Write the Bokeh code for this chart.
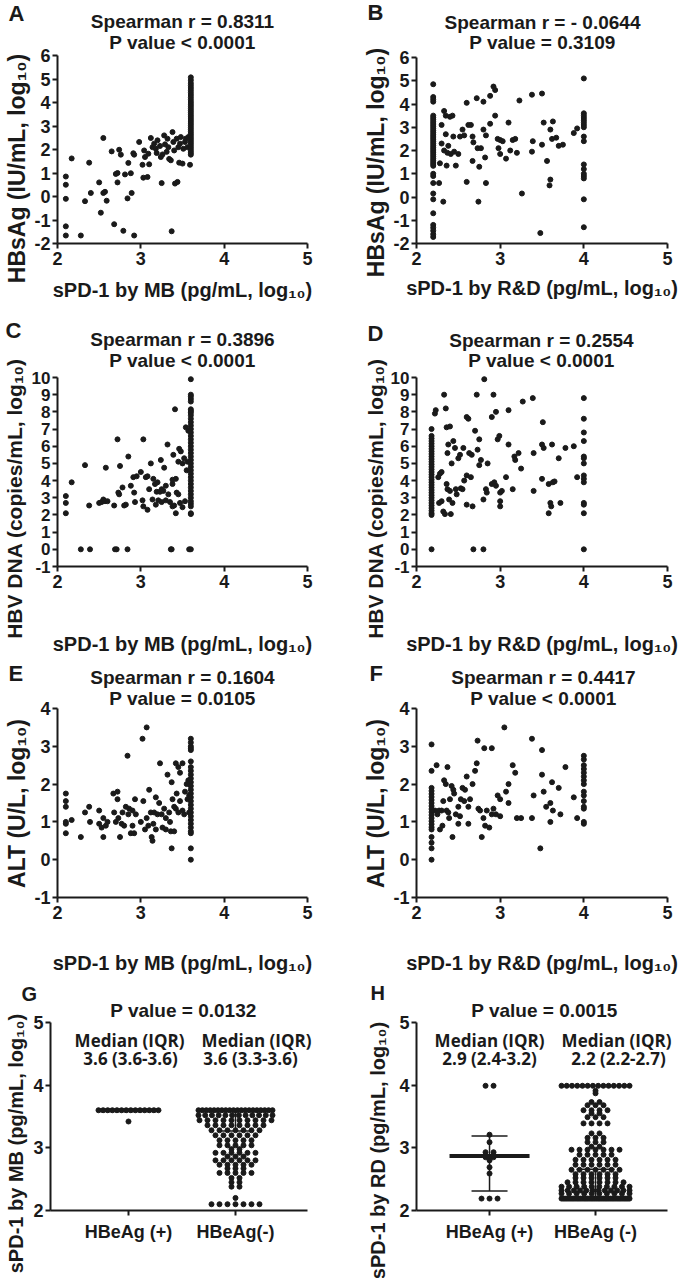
import math
from bokeh.plotting import figure
from bokeh.models import FixedTicker, Range1d
from bokeh.core.properties import value
from bokeh.layouts import column, row
from bokeh.embed import file_html
from bokeh.resources import INLINE

FONT = "Liberation Sans"
FONT2 = "Open Sans"
INK = "#1a1a1a"

# ---------------- data ----------------
# A: HBsAg vs sPD-1 by MB
a_x = [2.1, 2.1, 2.1, 2.1, 2.1, 2.17, 2.28, 2.33, 2.38, 2.4,
       2.5, 2.52, 2.55, 2.55, 2.57, 2.59, 2.65, 2.68, 2.7, 2.72,
       2.72, 2.74, 2.76, 2.79, 2.81, 2.85, 2.84, 2.88, 2.89, 2.91,
       2.92, 2.92, 2.98, 3.02, 3.03, 3.04, 3.05, 3.08, 3.09, 3.1,
       3.12, 3.14, 3.16, 3.18, 3.19, 3.2, 3.23, 3.24, 3.25, 3.26,
       3.28, 3.29, 3.31, 3.32, 3.33, 3.34, 3.36, 3.37, 3.38, 3.39,
       3.4, 3.41, 3.43, 3.44, 3.45, 3.46, 3.47, 3.48, 3.5, 3.51,
       3.53, 3.54, 3.56, 3.57, 3.59]
a_y = [0.85, 0.5, -0.1, -1.27, -1.66, 1.62, -1.66, -0.2, 1.44, 0.15,
       0.6, -0.69, 2.49, 0.15, 0.2, -0.18, 1.92, -1.18, 0.96, 1.0,
       0.6, 1.99, 1.78, -1.46, 0.94, 1.43, -0.08, 0.99, 0.15, 1.84,
       1.78, -1.66, 2.32, 1.35, 0.8, 1.96, 1.68, 0.83, 1.82, 1.37,
       2.49, 2.1, 2.25, 2.03, 1.85, 2.39, 2.15, 1.68, 0.57, 1.79,
       2.6, 2.22, 1.9, 2.46, 2.1, 1.6, 1.54, -1.48, 2.74, 2.32,
       1.96, 0.55, 2.46, 0.62, 2.1, 1.44, 2.25, 2.53, 1.4, 2.03,
       2.32, 2.46, 2.1, 2.53, 1.35]
a_col_x = 3.6
a_col_y = [5.07, 4.95, 4.82, 4.72, 4.62, 4.52, 4.42, 4.32, 4.22, 4.12,
           4.02, 3.93, 3.84, 3.75, 3.66, 3.57, 3.48, 3.39, 3.3, 3.21,
           3.12, 3.03, 2.94, 2.85, 2.76, 2.67, 2.58, 2.49, 2.4, 2.31,
           2.22, 2.13, 2.04, 1.95, 1.86, 1.78]

# B: HBsAg vs sPD-1 by R&D
b_x = [2.27, 2.28, 2.3, 2.3, 2.32, 2.33, 2.33, 2.35, 2.35, 2.36,
       2.37, 2.38, 2.4, 2.41, 2.43, 2.44, 2.45, 2.47, 2.5, 2.52,
       2.55, 2.57, 2.6, 2.6, 2.62, 2.65, 2.67, 2.67, 2.68, 2.72,
       2.73, 2.74, 2.75, 2.77, 2.8, 2.8, 2.82, 2.83, 2.83, 2.88,
       2.88, 2.92, 2.94, 2.94, 2.97, 2.98, 3.0, 3.0, 3.03, 3.07,
       3.1, 3.12, 3.15, 3.18, 3.2, 3.23, 3.26, 3.38, 3.39, 3.38,
       3.48, 3.5, 3.5, 3.52, 3.56, 3.59, 3.6, 3.6, 3.62, 3.63,
       3.67, 3.7, 3.75, 3.88, 3.92]
b_y = [0.6, 1.45, 3.1, 2.3, -0.2, 3.7, 2.0, 3.5, 2.7, 1.35,
       1.9, 2.2, 3.45, 1.85, 3.5, 2.6, 1.95, 1.35, 1.85, 2.6,
       2.9, 2.65, 4.05, 0.65, 3.1, 3.1, 2.6, 1.55, 2.35, 4.25,
       2.1, -0.2, 1.3, 2.1, 4.1, 2.9, 1.7, 0.6, 2.65, 3.15,
       4.35, 4.75, 4.6, 3.5, 2.5, 2.1, 1.85, 2.45, 2.4, 1.65,
       3.2, 2.0, 2.45, 2.5, 1.9, 4.15, 0.15, 4.4, 2.4, 1.95,
       -1.55, 4.45, 2.25, 3.2, 1.55, 0.5, 0.75, 2.9, 2.5, 3.25,
       2.55, 2.2, 2.25, 2.75, 2.95]
b_col1_x = 2.2
b_col1_y = [4.85, 4.3, 4.2, 4.1, 3.5, 3.42, 3.34, 3.26, 3.18, 3.1,
            3.02, 2.94, 2.86, 2.78, 2.7, 2.62, 2.54, 2.46, 2.38, 2.3,
            2.22, 2.14, 2.06, 1.98, 1.9, 1.82, 1.74, 1.66, 1.58, 1.5,
            1.42, 1.34, 1.0, 0.9, 0.6, 0.15, -0.1, -0.7, -1.2, -1.32,
            -1.45, -1.6, -1.72]
b_col2_x = 4.0
b_col2_y = [5.1, 3.6, 3.5, 3.4, 3.3, 3.2, 3.1, 3.0, 2.6, 2.4,
            1.4, 1.2, 1.0, 0.9, 0.8, -0.1, -1.3]

# C: HBV DNA vs sPD-1 by MB
c_x = [2.1, 2.1, 2.1, 2.17, 2.28, 2.33, 2.39, 2.38, 2.5, 2.53,
       2.55, 2.57, 2.58, 2.6, 2.68, 2.69, 2.71, 2.72, 2.73, 2.74,
       2.75, 2.78, 2.8, 2.82, 2.84, 2.85, 2.88, 2.91, 2.92, 2.93,
       2.95, 3.0, 3.02, 3.03, 3.03, 3.06, 3.08, 3.08, 3.1, 3.12,
       3.14, 3.15, 3.17, 3.18, 3.19, 3.2, 3.21, 3.23, 3.24, 3.25,
       3.25, 3.27, 3.28, 3.3, 3.3, 3.32, 3.33, 3.35, 3.36, 3.37,
       3.38, 3.38, 3.38, 3.39, 3.4, 3.41, 3.42, 3.42, 3.43, 3.45,
       3.45, 3.46, 3.47, 3.48, 3.5, 3.5, 3.52, 3.53, 3.54, 3.55,
       3.56, 3.57, 3.58]
c_y = [3.1, 2.7, 2.1, 3.9, 0.0, 4.9, 0.0, 2.55, 2.7, 2.75,
       2.9, 2.8, 4.75, 2.8, 2.55, 0.0, 0.0, 6.4, 3.3, 3.2,
       4.85, 3.6, 2.55, 2.6, 0.0, 5.4, 3.7, 4.2, 3.3, 2.75,
       4.25, 4.5, 2.85, 6.4, 2.5, 4.2, 4.25, 2.3, 3.5, 5.0,
       2.9, 4.1, 3.8, 2.6, 3.35, 3.9, 2.85, 3.35, 5.2, 3.5,
       2.75, 3.4, 4.75, 3.7, 2.85, 6.1, 3.2, 2.75, 0.0, 0.0,
       2.5, 3.8, 4.05, 5.5, 2.55, 8.15, 4.1, 2.1, 3.3, 3.2,
       5.1, 5.85, 2.7, 5.7, 2.45, 5.0, 5.3, 2.8, 7.1, 4.6,
       5.1, 6.9, 0.0]
c_col_x = 3.6
c_col_y = [9.9, 9.0, 8.9, 8.75, 8.6, 8.15, 8.05, 7.95, 7.8, 7.6,
           7.4, 7.2, 7.0, 6.8, 6.6, 6.4, 6.2, 6.0, 5.8, 5.6,
           5.4, 5.2, 5.0, 4.8, 4.6, 4.4, 4.2, 4.0, 3.8, 3.6,
           3.4, 3.2, 3.0, 2.8, 2.65, 2.5, 2.1, 2.05, 0.0]

# D: HBV DNA vs sPD-1 by R&D
d_x = [2.22, 2.23, 2.26, 2.27, 2.28, 2.3, 2.3, 2.32, 2.33, 2.34,
       2.35, 2.36, 2.36, 2.37, 2.37, 2.38, 2.39, 2.4, 2.4, 2.41,
       2.42, 2.43, 2.44, 2.46, 2.47, 2.48, 2.5, 2.52, 2.53, 2.55,
       2.56, 2.57, 2.6, 2.6, 2.6, 2.62, 2.63, 2.65, 2.66, 2.67,
       2.68, 2.7, 2.72, 2.73, 2.75, 2.75, 2.77, 2.8, 2.8, 2.81,
       2.83, 2.84, 2.85, 2.9, 2.9, 2.92, 2.93, 2.95, 2.95, 2.97,
       2.99, 3.0, 3.0, 3.0, 3.02, 3.07, 3.1, 3.1, 3.15, 3.17,
       3.18, 3.22, 3.25, 3.27, 3.39, 3.4, 3.4, 3.5, 3.51, 3.5,
       3.52, 3.58, 3.58, 3.6, 3.61, 3.62, 3.63, 3.65, 3.7, 3.72,
       3.78, 3.88, 3.92]
d_y = [7.9, 8.1, 4.2, 2.7, 4.4, 4.5, 2.8, 2.2, 9.0, 2.05,
       8.2, 3.8, 7.1, 3.5, 5.6, 6.1, 2.9, 3.4, 7.15, 2.05,
       5.0, 2.7, 6.3, 5.9, 3.5, 3.2, 5.3, 5.5, 3.55, 3.5,
       5.9, 4.0, 7.7, 4.3, 2.6, 7.6, 5.6, 4.2, 5.5, 2.5,
       0.0, 6.9, 9.0, 5.8, 6.4, 4.9, 5.2, 0.0, 2.9, 9.9,
       3.5, 3.3, 5.0, 7.7, 3.8, 9.0, 3.9, 3.7, 8.0, 6.4,
       6.6, 3.3, 2.8, 2.5, 3.4, 4.2, 6.1, 8.1, 3.5, 5.4,
       5.2, 5.6, 4.7, 8.6, 8.8, 5.6, 3.4, 4.1, 7.4, 6.1,
       5.9, 2.1, 3.8, 2.7, 2.5, 6.1, 3.9, 3.95, 5.3, 2.7,
       5.9, 6.0, 4.2]
d_col1_x = 2.18
d_col1_y = [7.0, 6.6, 6.45, 6.3, 6.15, 6.0, 5.85, 5.7, 5.55, 5.4,
            5.25, 5.1, 4.95, 4.8, 4.65, 4.5, 4.35, 4.2, 4.05, 3.9,
            3.75, 3.6, 3.45, 3.3, 3.15, 3.0, 2.85, 2.7, 2.55, 2.4,
            2.25, 2.1, 2.0, 0.0]
d_col2_x = 4.0
d_col2_y = [8.8, 7.6, 6.8, 6.3, 5.4, 5.3, 5.0, 4.3, 4.1, 3.9,
            2.7, 2.6, 2.1, 0.0]

# E: ALT vs sPD-1 by MB
e_x = [2.1, 2.1, 2.1, 2.1, 2.1, 2.1, 2.17, 2.28, 2.33, 2.38,
       2.39, 2.5, 2.5, 2.53, 2.55, 2.55, 2.58, 2.6, 2.67, 2.68,
       2.7, 2.72, 2.72, 2.73, 2.75, 2.77, 2.78, 2.8, 2.82, 2.84,
       2.85, 2.86, 2.88, 2.9, 2.9, 2.92, 2.93, 2.94, 3.0, 3.02,
       3.03, 3.05, 3.07, 3.07, 3.09, 3.1, 3.12, 3.13, 3.14, 3.15,
       3.16, 3.18, 3.18, 3.2, 3.22, 3.23, 3.25, 3.26, 3.28, 3.3,
       3.3, 3.32, 3.34, 3.35, 3.36, 3.37, 3.37, 3.38, 3.4, 3.4,
       3.42, 3.42, 3.43, 3.45, 3.45, 3.47, 3.47, 3.5, 3.5, 3.52,
       3.53, 3.55, 3.56, 3.57, 3.58, 3.58]
e_y = [1.75, 1.55, 1.4, 1.0, 0.95, 0.7, 1.05, 0.6, 1.25, 1.4,
       1.0, 1.3, 0.95, 0.85, 0.6, 1.1, 0.9, 1.0, 1.75, 1.25,
       1.0, 1.6, 1.8, 1.1, 0.6, 0.95, 1.25, 0.9, 1.4, 2.75,
       1.2, 1.35, 0.7, 1.3, 0.9, 0.7, 1.6, 1.2, 1.0, 3.2,
       1.55, 0.8, 3.5, 1.1, 0.9, 1.85, 1.25, 0.6, 0.5, 0.95,
       1.25, 1.65, 0.8, 1.2, 1.5, 2.55, 1.2, 0.85, 1.35, 1.1,
       0.8, 2.25, 1.25, 1.0, 0.75, 2.05, 0.3, 1.6, 1.4, 0.75,
       2.55, 1.35, 1.75, 2.45, 1.25, 2.3, 1.55, 2.55, 1.3, 1.2,
       1.8, 2.0, 1.6, 2.1, 1.25, 1.7]
e_col_x = 3.6
e_col_y = [3.2, 3.1, 3.0, 2.95, 2.9, 2.6, 2.45, 2.35, 2.25, 2.15,
           2.05, 1.95, 1.85, 1.75, 1.65, 1.55, 1.45, 1.35, 1.25, 1.15,
           1.05, 0.95, 0.85, 0.75, 0.7, 0.3, 0.0]

# F: ALT vs sPD-1 by R&D
f_x = [2.22, 2.24, 2.25, 2.27, 2.28, 2.3, 2.31, 2.32, 2.33, 2.35,
       2.36, 2.37, 2.38, 2.39, 2.4, 2.42, 2.43, 2.44, 2.45, 2.47,
       2.5, 2.5, 2.52, 2.53, 2.55, 2.57, 2.58, 2.6, 2.62, 2.62,
       2.64, 2.67, 2.7, 2.72, 2.73, 2.74, 2.76, 2.78, 2.8, 2.81,
       2.82, 2.84, 2.87, 2.9, 2.9, 2.92, 2.95, 2.97, 3.0, 3.0,
       3.05, 3.07, 3.1, 3.1, 3.15, 3.18, 3.2, 3.25, 3.38, 3.4,
       3.38, 3.48, 3.5, 3.5, 3.52, 3.55, 3.6, 3.6, 3.62, 3.63,
       3.7, 3.72, 3.78, 3.88, 3.92]
f_y = [1.3, 2.5, 1.2, 1.3, 0.8, 1.3, 0.9, 1.55, 2.1, 2.0,
       1.3, 2.45, 1.25, 1.1, 1.6, 1.95, 0.6, 1.85, 1.75, 1.2,
       1.4, 0.95, 1.15, 1.6, 1.9, 1.55, 1.85, 2.2, 0.95, 1.4,
       1.6, 2.0, 2.35, 2.55, 3.15, 1.35, 1.3, 0.6, 1.1, 2.95,
       0.9, 1.3, 0.85, 2.95, 1.2, 1.35, 1.2, 1.7, 1.15, 1.6,
       3.5, 1.8, 2.0, 1.5, 2.5, 2.3, 1.1, 1.1, 3.2, 1.7,
       1.1, 0.3, 2.9, 2.25, 1.8, 1.4, 1.0, 1.5, 2.05, 1.3,
       1.9, 1.2, 2.45, 1.65, 1.1]
f_col1_x = 2.18
f_col1_y = [3.05, 2.35, 1.9, 1.82, 1.74, 1.66, 1.58, 1.5, 1.42, 1.34,
            1.26, 1.18, 1.1, 1.02, 0.94, 0.86, 0.8, 0.6, 0.45, 0.3, 0.0]
f_col2_x = 4.0
f_col2_y = [2.75, 2.65, 2.5, 2.4, 2.3, 2.2, 2.1, 2.0, 1.8, 1.7,
            1.55, 1.4, 1.35, 1.0, 0.95]

# G: sPD-1 by MB by HBeAg status (value levels and number of dots at each)
groups = ["HBeAg (+)", "HBeAg(-)"]
g_pos_levels = [3.6, 3.42]
g_pos_counts = [14, 1]
g_neg_levels = [3.6, 3.52, 3.44, 3.36, 3.28, 3.2, 3.12, 3.04, 2.98, 2.92,
                2.86, 2.8, 2.73, 2.67, 2.6, 2.52, 2.45, 2.38, 2.2, 2.1]
g_neg_counts = [20, 12, 10, 8, 7, 6, 5, 5, 2, 6,
                3, 6, 5, 3, 5, 2, 2, 2, 1, 7]
g_median = [3.6, 3.6]
g_q1 = [3.6, 3.27]
g_q3 = [3.6, 3.6]

# H: sPD-1 by R&D by HBeAg status
groups_h = ["HBeAg (+)", "HBeAg (-)"]
h_pos_levels = [3.99, 3.21, 3.09, 2.93, 2.85, 2.8, 2.69, 2.59, 2.19]
h_pos_counts = [2, 1, 1, 2, 2, 1, 1, 1, 3]
h_neg_levels = [3.99, 3.91, 3.87, 3.73, 3.68, 3.6, 3.55, 3.49, 3.39, 3.23,
                3.16, 3.09, 3.02, 2.97, 2.89, 2.81, 2.73, 2.65, 2.58, 2.52,
                2.45, 2.38, 2.32, 2.27, 2.19]
h_neg_counts = [14, 1, 1, 2, 3, 4, 2, 3, 4, 2,
                3, 3, 2, 7, 5, 6, 6, 7, 6, 6,
                8, 10, 12, 10, 40]
h_median = [2.87, 2.2]
h_q1 = [2.31, 2.2]
h_q3 = [3.19, 2.66]

LOG = "log\u2081\u2080"
HALF = math.pi / 2


# ---------------- helpers ----------------
def panel(ox, oy, w, h, ax_x, ax_y, ax_l, ax_r, ax_t, ax_b,
          xticks, yticks, ytick_size="18px", xstand=3):
    """One panel; the plot frame fills the whole cell so that the panel
    letter and titles can be drawn in it.  The axes are pinned (fixed_location)
    at the low ends of the data ranges and bounded to the ticked span."""
    ppx = (ax_r - ax_l) / (ax_x[1] - ax_x[0])
    ppy = (ax_b - ax_t) / (ax_y[1] - ax_y[0])
    xr = (ax_x[0] - (ax_l - ox) / ppx, ax_x[1] + (ox + w - ax_r) / ppx)
    yr = (ax_y[0] - (oy + h - ax_b) / ppy, ax_y[1] + (ax_t - oy) / ppy)
    p = figure(width=w, height=h, x_range=Range1d(*xr), y_range=Range1d(*yr),
               output_backend="svg", toolbar_location=None,
               min_border_left=0, min_border_right=0, min_border_top=0, min_border_bottom=0)
    p.outline_line_color = None
    p.xgrid.visible = False
    p.ygrid.visible = False
    p.background_fill_color = "white"
    p.border_fill_color = "white"
    for ax in (p.xaxis[0], p.yaxis[0]):
        ax.axis_line_width = 2
        ax.axis_line_color = INK
        ax.major_tick_line_width = 2
        ax.major_tick_line_color = INK
        ax.major_tick_out = 5
        ax.major_tick_in = 0
        ax.minor_tick_out = 0
        ax.minor_tick_in = 0
        ax.major_label_text_font = FONT
        ax.major_label_text_font_style = "bold"
        ax.major_label_text_color = INK
        ax.axis_label_text_font = FONT
        ax.axis_label_text_font_style = "bold"
        ax.axis_label_text_color = INK
        ax.axis_label_text_font_size = "20px"
    p.xaxis[0].fixed_location = ax_y[0]
    p.yaxis[0].fixed_location = ax_x[0]
    p.xaxis[0].bounds = tuple(ax_x)
    p.yaxis[0].bounds = tuple(ax_y)
    p.xaxis[0].major_label_text_font_size = "18px"
    p.yaxis[0].major_label_text_font_size = ytick_size
    p.xaxis[0].major_label_standoff = xstand
    p.yaxis[0].major_label_standoff = 2
    p.xaxis[0].ticker = FixedTicker(ticks=xticks)
    p.yaxis[0].ticker = FixedTicker(ticks=yticks)
    p.yaxis[0].major_label_overrides = {t: "-" + str(abs(t)) for t in yticks if t < 0}
    to = lambda px, py: (xr[0] + (px - ox) / ppx, yr[0] + (oy + h - py) / ppy)
    return p, to, ppx


def put(p, to, text, px, py, size, font=FONT, align="center", angle=0.0, style="bold"):
    x, y = to(px, py)
    p.text(x=[x], y=[y], text=[text], angle=angle,
           text_font=value(font), text_font_size=size, text_font_style=style,
           text_color=INK, text_align=align, text_baseline="middle")


def dots(p, xs, ys):
    p.scatter(xs, ys, size=5, color=INK, line_color=INK)


def swarm(levels, counts, center, ppu, half_max_px, step_px=8.0):
    xs, ys = [], []
    for v, n in zip(levels, counts):
        step = step_px if n < 2 else min(step_px, 2.0 * half_max_px / (n - 1))
        for i in range(n):
            xs.append(center + (i - (n - 1) / 2.0) * step / ppu)
            ys.append(v)
    return xs, ys


def summary(p, centers, med, q1, q3, med_half, cap_half, ppu):
    for c, m, a, b, mh, ch in zip(centers, med, q1, q3, med_half, cap_half):
        if a != b:
            p.segment(x0=[c], y0=[a], x1=[c], y1=[b], line_width=1.5, line_color=INK)
            for q in (a, b):
                p.segment(x0=[c - ch / ppu], y0=[q], x1=[c + ch / ppu], y1=[q],
                          line_width=1.5, line_color=INK)
        p.segment(x0=[c - mh / ppu], y0=[m], x1=[c + mh / ppu], y1=[m],
                  line_width=4, line_color=INK)


XT = [2, 3, 4, 5]
LW, RW = 346, 338

# ---------------- row 1 : A, B ----------------
pA, mA, _ = panel(0, 0, LW, 312, (2, 5), (-2, 6), 57, 307, 55, 243,
                  XT, [-2, -1, 0, 1, 2, 3, 4, 5, 6])
pA.xaxis[0].axis_label = f"sPD-1 by MB (pg/mL, {LOG})"
pA.xaxis[0].axis_label_standoff = 11
dots(pA, a_x, a_y)
dots(pA, [a_col_x] * len(a_col_y), a_col_y)
put(pA, mA, "A", 8, 13, "22px", align="left")
put(pA, mA, "Spearman r = 0.8311", 182, 21, "19px")
put(pA, mA, "P value < 0.0001", 182, 42, "19px")
put(pA, mA, f"HBsAg (IU/mL, {LOG})", 16, 168, "23px", angle=HALF)

pB, mB, _ = panel(LW, 0, RW, 312, (2, 5), (-2, 6), 416, 667, 57, 243,
                  XT, [-2, -1, 0, 1, 2, 3, 4, 5, 6])
pB.xaxis[0].axis_label = f"sPD-1 by R&D (pg/mL, {LOG})"
pB.xaxis[0].axis_label_standoff = 9
dots(pB, b_x, b_y)
dots(pB, [b_col1_x] * len(b_col1_y), b_col1_y)
dots(pB, [b_col2_x] * len(b_col2_y), b_col2_y)
put(pB, mB, "B", 367, 12, "22px", align="left")
put(pB, mB, "Spearman r = - 0.0644", 542, 22, "19px")
put(pB, mB, "P value = 0.3109", 542, 42, "19px")
put(pB, mB, f"HBsAg (IU/mL, {LOG})", 375, 162, "23px", angle=HALF)

# ---------------- row 2 : C, D ----------------
yt10 = [-1, 0, 1, 2, 3, 4, 5, 6, 7, 8, 9, 10]
pC, mC, _ = panel(0, 312, LW, 348, (2, 5), (-1, 10), 57, 307, 377, 566,
                  XT, yt10, ytick_size="17px")
pC.xaxis[0].axis_label = f"sPD-1 by MB (pg/mL, {LOG})"
pC.xaxis[0].axis_label_standoff = 42
dots(pC, c_x, c_y)
dots(pC, [c_col_x] * len(c_col_y), c_col_y)
put(pC, mC, "C", 5, 330, "22px", align="left")
put(pC, mC, "Spearman r = 0.3896", 182, 339, "19px")
put(pC, mC, "P value < 0.0001", 182, 360, "19px")
put(pC, mC, f"HBV DNA (copies/mL, {LOG})", 14, 498, "21px", angle=HALF)

pD, mD, _ = panel(LW, 312, RW, 348, (2, 5), (-1, 10), 416, 667, 377, 566,
                  XT, yt10, ytick_size="17px")
pD.xaxis[0].axis_label = f"sPD-1 by R&D (pg/mL, {LOG})"
pD.xaxis[0].axis_label_standoff = 42
dots(pD, d_x, d_y)
dots(pD, [d_col1_x] * len(d_col1_y), d_col1_y)
dots(pD, [d_col2_x] * len(d_col2_y), d_col2_y)
put(pD, mD, "D", 367, 333, "22px", align="left")
put(pD, mD, "Spearman r = 0.2554", 541, 340, "19px")
put(pD, mD, "P value < 0.0001", 541, 360, "19px")
put(pD, mD, f"HBV DNA (copies/mL, {LOG})", 375, 498, "21px", angle=HALF)

# ---------------- row 3 : E, F ----------------
yt4 = [-1, 0, 1, 2, 3, 4]
pE, mE, _ = panel(0, 660, LW, 322, (2, 5), (-1, 4), 57, 307, 708, 897, XT, yt4)
pE.xaxis[0].axis_label = f"sPD-1 by MB (pg/mL, {LOG})"
pE.xaxis[0].axis_label_standoff = 30
dots(pE, e_x, e_y)
dots(pE, [e_col_x] * len(e_col_y), e_col_y)
put(pE, mE, "E", 8, 673, "22px", align="left")
put(pE, mE, "Spearman r = 0.1604", 182, 677, "19px")
put(pE, mE, "P value = 0.0105", 182, 698, "19px")
put(pE, mE, f"ALT (U/L, {LOG})", 16, 803, "23px", angle=HALF)

pF, mF, _ = panel(LW, 660, RW, 322, (2, 5), (-1, 4), 416, 667, 708, 897, XT, yt4)
pF.xaxis[0].axis_label = f"sPD-1 by R&D (pg/mL, {LOG})"
pF.xaxis[0].axis_label_standoff = 30
dots(pF, f_x, f_y)
dots(pF, [f_col1_x] * len(f_col1_y), f_col1_y)
dots(pF, [f_col2_x] * len(f_col2_y), f_col2_y)
put(pF, mF, "F", 369, 673, "22px", align="left")
put(pF, mF, "Spearman r = 0.4417", 543, 677, "19px")
put(pF, mF, "P value < 0.0001", 543, 698, "19px")
put(pF, mF, f"ALT (U/L, {LOG})", 375, 803, "23px", angle=HALF)

# ---------------- row 4 : G, H ----------------
pG, mG, gppu = panel(0, 982, LW, 296, (0.271, 2.673), (2, 5), 50, 307, 1022, 1210,
                     [1, 2], [2, 3, 4, 5], xstand=6)
pG.xaxis[0].major_label_overrides = {1: groups[0], 2: groups[1]}
xs, ys = swarm(g_pos_levels, g_pos_counts, 1, gppu, 30)
dots(pG, xs, ys)
xs, ys = swarm(g_neg_levels, g_neg_counts, 2, gppu, 37)
dots(pG, xs, ys)
summary(pG, [1, 2], g_median, g_q1, g_q3, [30, 38], [16, 16], gppu)
put(pG, mG, "G", 21, 993, "20px", align="left")
put(pG, mG, "P value = 0.0132", 183, 1010, "19px")
put(pG, mG, "Median (IQR)", 129, 1040, "17px", font=FONT2)
put(pG, mG, "Median (IQR)", 256, 1040, "17px", font=FONT2)
put(pG, mG, "3.6 (3.6-3.6)", 130, 1058, "17px", font=FONT2)
put(pG, mG, "3.6 (3.3-3.6)", 250, 1058, "17px", font=FONT2)
put(pG, mG, f"sPD-1 by MB (pg/mL, {LOG})", 15, 1143, "20px", angle=HALF)

pH, mH, hppu = panel(LW, 982, RW, 296, (0.311, 2.679), (2, 5), 416, 667, 1022, 1210,
                     [1, 2], [2, 3, 4, 5], xstand=6)
pH.xaxis[0].major_label_overrides = {1: groups_h[0], 2: groups_h[1]}
xs, ys = swarm(h_pos_levels, h_pos_counts, 1, hppu, 30)
dots(pH, xs, ys)
xs, ys = swarm(h_neg_levels, h_neg_counts, 2, hppu, 34)
dots(pH, xs, ys)
summary(pH, [1, 2], h_median, h_q1, h_q3, [40, 36], [18, 19], hppu)
put(pH, mH, "H", 370, 992, "20px", align="left")
put(pH, mH, "P value = 0.0015", 544, 1010, "19px")
put(pH, mH, "Median (IQR)", 489, 1040, "17px", font=FONT2)
put(pH, mH, "Median (IQR)", 616, 1040, "17px", font=FONT2)
put(pH, mH, "2.9 (2.4-3.2)", 489, 1058, "17px", font=FONT2)
put(pH, mH, "2.2 (2.2-2.7)", 618, 1058, "17px", font=FONT2)
put(pH, mH, f"sPD-1 by RD (pg/mL, {LOG})", 377, 1150, "20px", angle=HALF)

layout = column(row(pA, pB), row(pC, pD), row(pE, pF), row(pG, pH))
open("out.html", "w").write(file_html(layout, INLINE))
